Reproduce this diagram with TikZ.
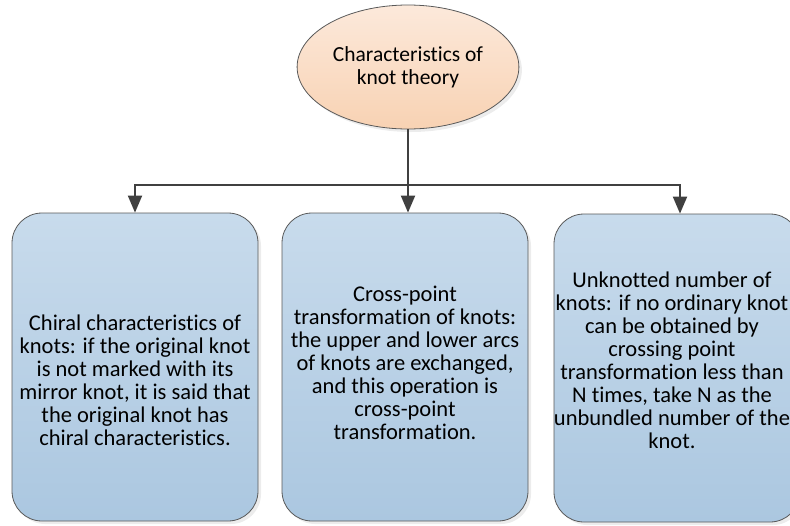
\documentclass[tikz,border=0pt]{standalone}
\usepackage{fontspec}
\setmainfont{Carlito}[Ligatures=CommonOff]
\usepackage{tikz}
\usetikzlibrary{shapes.geometric, arrows.meta, positioning, shadows}
\definecolor{peachtop}{HTML}{FCE9DB}
\definecolor{peachbottom}{HTML}{F8D2B3}
\definecolor{bluetop}{HTML}{C8DBEC}
\definecolor{bluebottom}{HTML}{ABC7E0}
\definecolor{edgegray}{HTML}{595959}
\definecolor{arrowgray}{HTML}{404040}

\begin{document}
\begin{tikzpicture}[
    x=1pt, y=-1pt,
    every node/.style={font=\fontsize{22.5}{23}\selectfont, align=center},
    topic/.style={ellipse, draw=edgegray, line width=0.8pt, top color=peachtop, bottom color=peachbottom, minimum width=209pt, minimum height=124pt, font=\fontsize{21.5}{23}\selectfont, drop shadow={shadow xshift=3pt, shadow yshift=-3pt, opacity=0.15}},
    box/.style={draw=edgegray, rounded corners=30pt, minimum width=246pt, minimum height=308pt, line width=0.8pt, top color=bluetop, bottom color=bluebottom, drop shadow={shadow xshift=3pt, shadow yshift=-3pt, opacity=0.15}},
    link/.style={-{Triangle[length=17pt, width=14pt]}, line width=2pt, draw=arrowgray}
]
    \useasboundingbox (0,0) rectangle (790,525);

    % Root
    \node[topic] (theory) at (408,67) {Characteristics of\\knot theory};

    % Characteristics
    \node[box] (chiral) at (135,367) {};
    \node[box] (cross) at (405,367) {};
    \node[box] (unknot) at (677,368) {};
    \node (chiraltext) at ([yshift=-13pt]chiral.center) {Chiral characteristics of\\knots: if the original knot\\is not marked with its\\mirror knot, it is said that\\the original knot has\\chiral characteristics.};
    \node (crosstext) at ([yshift=4pt]cross.center) {Cross-point\\transformation of knots:\\the upper and lower arcs\\of knots are exchanged,\\and this operation is\\cross-point\\transformation.};
    \node (unknottext) at ([xshift=-5pt, yshift=8pt]unknot.center) {Unknotted number of\\knots: if no ordinary knot\\can be obtained by\\crossing point\\transformation less than\\N times, take N as the\\unbundled number of the\\knot.};

    % Connectors
    \coordinate (split) at (theory.south |- 0,185);
    \draw[link] (theory.south) -- (split) -- (split |- cross.north);
    \draw[link] (split) -| (chiral.north);
    \draw[link] (split) -| ([xshift=3pt]unknot.north);
\end{tikzpicture}
\end{document}
